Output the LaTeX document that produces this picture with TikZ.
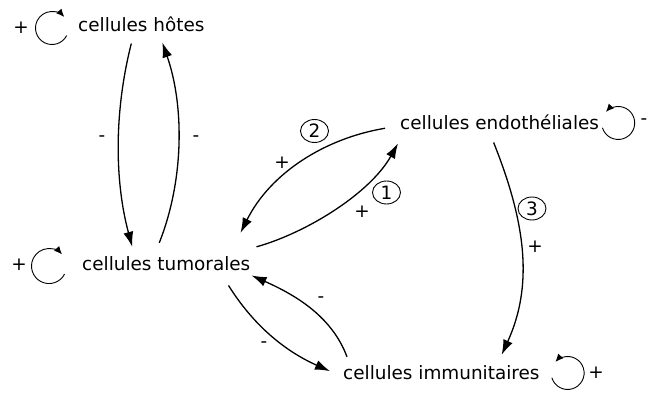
\documentclass[tikz,border=0pt]{standalone}
\usepackage{fontspec}
\setmainfont{DejaVu Sans}
\usetikzlibrary{arrows.meta}
\usetikzlibrary{shapes.geometric}

\begin{document}
\begin{tikzpicture}[x=1pt,y=-1pt,
  every node/.style={font=\fontsize{18.4}{22}\selectfont, inner sep=0pt},
  cell/.style={anchor=base west},
  arr/.style={line width=1.3pt, -{Latex[length=15pt,width=10pt]}},
  selfloop/.style={line width=0.9pt, -{Latex[length=8pt,width=7pt]}},
  num/.style={draw, ellipse, line width=0.9pt, minimum width=28pt, minimum height=23pt}]
\useasboundingbox (0,0) rectangle (648,393);

\node[cell] (hotes) at (78,32) {cellules hôtes};
\node[cell] (tum) at (82,270) {cellules tumorales};
\node[cell] (endo) at (400,130) {cellules endothéliales};
\node[cell] (immun) at (343,379) {cellules immunitaires};

% self loops
\draw[selfloop] ([shift={(-11.3,3.5)}]hotes.base west) arc[start angle=27, end angle=318, radius=16.5];
\draw[selfloop] ([shift={(-17.4,4)}]tum.base west) arc[start angle=27, end angle=318, radius=17.5];
\draw[selfloop] ([shift={(3.2,-2.2)}]endo.base east) arc[start angle=163, end angle=-138, radius=16.5];
\draw[selfloop] ([shift={(12.2,-1.2)}]immun.base east) arc[start angle=163, end angle=-138, radius=16.5];

\node (hsign) at (21,28) {+};
\node (tsign) at (19,265) {+};
\node (esign) at (644,122) {-};
\node (isign) at (596,373) {+};

% hotes <-> tumorales
\draw[arr] ([shift={(-10,11)}]hotes.south) .. controls +(-17,67) and +(-18,-67) .. ([shift={(-34,-9)}]tum.north);
\draw[arr] ([shift={(-7,-13)}]tum.north) .. controls +(25,-63) and +(22,63) .. ([shift={(21,10)}]hotes.south);
\node (m1) at (102,139) {-};
\node (m2) at (196,139) {-};

% endotheliales <-> tumorales
\draw[arr] ([shift={(-15,5.5)}]endo.west) .. controls +(-60,10) and +(30,-60) .. ([shift={(-10,-23)}]tum.north east);
\draw[arr] ([shift={(6,-9)}]tum.north east) .. controls +(50,-14) and +(-28,50) .. ([shift={(-2,13)}]endo.south west);
\node[num] (n2) at (314.5,131) {2};
\node (p2) at (282,163) {+};
\node[num] (n1) at (386.5,192.5) {1};
\node (p1) at (362,212) {+};

% endotheliales -> immunitaires
\draw[arr] ([shift={(-6,12)}]endo.south) .. controls +(32,80) and +(32,-70) .. ([shift={(-38,-10)}]immun.north east);
\node[num] (n3) at (532,208.5) {3};
\node (p3) at (535,247) {+};

% tumorales <-> immunitaires
\draw[arr] ([shift={(-22,15)}]tum.south east) .. controls +(25,40) and +(-45,-20) .. ([shift={(-13,-1)}]immun.west);
\draw[arr] ([shift={(4,-8)}]immun.north west) .. controls +(-15,-40) and +(45,20) .. ([shift={(1,5)}]tum.south east);
\node (m3) at (264,345) {-};
\node (m4) at (321,300) {-};

\end{tikzpicture}
\end{document}
